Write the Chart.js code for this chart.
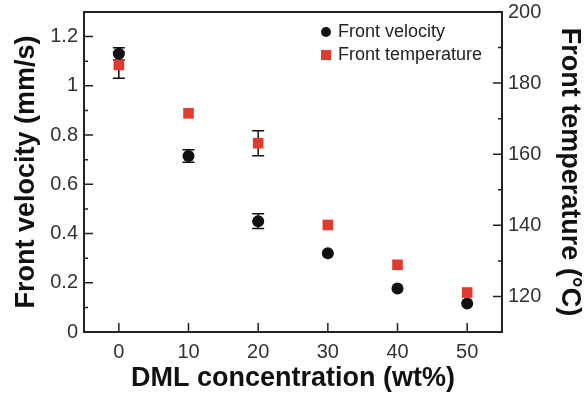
<!DOCTYPE html>
<html>
<head>
<meta charset="utf-8">
<script src="https://cdn.jsdelivr.net/npm/chart.js@4.4.1/dist/chart.umd.min.js"></script>
<style>
  html, body { margin: 0; padding: 0; background: #fff; }
  #wrap { width: 586px; height: 398px; }
</style>
</head>
<body>
<div id="wrap"><canvas id="frontChart" width="586" height="398"></canvas></div>
<script>
// values (0 = error bar hidden by the marker)
const concentration = [0, 10, 20, 30, 40, 50];
const velocity = [1.13, 0.715, 0.45, 0.32, 0.177, 0.116];
const velocityErr = [0.025, 0.025, 0.03, 0, 0, 0];
const temperature = [185.1, 171.5, 163.1, 140.1, 128.9, 121.1];
const temperatureErr = [3.7, 0, 3.5, 0, 0, 0];

// tick values
const xTicks = [0, 10, 20, 30, 40, 50];
const velocityTicks = [0, 0.2, 0.4, 0.6, 0.8, 1, 1.2];
const velocityMinor = [0.1, 0.3, 0.5, 0.7, 0.9, 1.1];
const tempTicks = [120, 140, 160, 180, 200];
const tempMinor = [130, 150, 170, 190];

const RED = '#e0392e';
const BLACK = '#111111';
const AXIS = '#222222';
const FONT = "'Liberation Sans', Arial, sans-serif";

function toPoints(xs, ys) {
    return xs.map((x, i) => ({ x: x, y: ys[i] }));
}

// error bars, frame, inward tick marks and the legend box
const decorations = {
    id: 'decorations',
    beforeDatasetsDraw(chart) {
        const ctx = chart.ctx;
        const x = chart.scales.x;
        const sets = [
            { vals: velocity, errs: velocityErr, scale: chart.scales.y },
            { vals: temperature, errs: temperatureErr, scale: chart.scales.y2 }
        ];
        ctx.save();
        ctx.strokeStyle = BLACK;
        ctx.lineWidth = 1.5;
        sets.forEach(s => {
            s.vals.forEach((v, i) => {
                if (!s.errs[i]) return;
                const px = x.getPixelForValue(concentration[i]);
                const top = s.scale.getPixelForValue(v + s.errs[i]);
                const bot = s.scale.getPixelForValue(v - s.errs[i]);
                ctx.beginPath();
                ctx.moveTo(px, top); ctx.lineTo(px, bot);
                ctx.moveTo(px - 6, top); ctx.lineTo(px + 6, top);
                ctx.moveTo(px - 6, bot); ctx.lineTo(px + 6, bot);
                ctx.stroke();
            });
        });
        ctx.restore();
    },
    afterDraw(chart) {
        const ctx = chart.ctx;
        const a = chart.chartArea;
        const { x, y, y2 } = chart.scales;
        ctx.save();
        ctx.strokeStyle = AXIS;
        ctx.lineWidth = 2;
        ctx.strokeRect(a.left, a.top, a.right - a.left, a.bottom - a.top);

        ctx.lineWidth = 1.5;
        ctx.beginPath();
        xTicks.forEach(v => {
            const p = x.getPixelForValue(v);
            ctx.moveTo(p, a.bottom); ctx.lineTo(p, a.bottom - 9);
        });
        velocityTicks.forEach(v => {
            const p = y.getPixelForValue(v);
            ctx.moveTo(a.left, p); ctx.lineTo(a.left + 9, p);
        });
        velocityMinor.forEach(v => {
            const p = y.getPixelForValue(v);
            ctx.moveTo(a.left, p); ctx.lineTo(a.left + 4, p);
        });
        tempTicks.forEach(v => {
            const p = y2.getPixelForValue(v);
            ctx.moveTo(a.right, p); ctx.lineTo(a.right - 9, p);
        });
        tempMinor.forEach(v => {
            const p = y2.getPixelForValue(v);
            ctx.moveTo(a.right, p); ctx.lineTo(a.right - 4, p);
        });
        ctx.stroke();

        // legend
        const lx = 326, ly = 32, gap = 23;
        ctx.fillStyle = BLACK;
        ctx.beginPath();
        ctx.arc(lx, ly, 5, 0, Math.PI * 2);
        ctx.fill();
        ctx.fillStyle = RED;
        ctx.fillRect(lx - 5, ly + gap - 5, 10, 10);
        ctx.fillStyle = '#222';
        ctx.font = '18px ' + FONT;
        ctx.textBaseline = 'middle';
        ctx.fillText(chart.data.datasets[0].label, lx + 12, ly);
        ctx.fillText(chart.data.datasets[1].label, lx + 12, ly + gap);
        ctx.restore();
    }
};

const tickFont = { family: FONT, size: 20 };
const titleFont = { family: FONT, size: 27, weight: 'bold' };

// fixed side widths, no extra padding for overhanging tick labels
const fitSide = s => { s.width = 84; s.paddingTop = 0; s.paddingBottom = 0; };

new Chart(document.getElementById('frontChart').getContext('2d'), {
    type: 'scatter',
    data: {
        datasets: [
            {
                label: 'Front velocity',
                data: toPoints(concentration, velocity),
                yAxisID: 'y',
                pointStyle: 'circle',
                pointRadius: 6,
                pointHoverRadius: 6,
                backgroundColor: BLACK,
                borderColor: BLACK,
                borderWidth: 0,
                order: 2
            },
            {
                label: 'Front temperature',
                data: toPoints(concentration, temperature),
                yAxisID: 'y2',
                pointStyle: 'rect',
                pointRadius: 7.5,
                pointHoverRadius: 7.5,
                backgroundColor: RED,
                borderColor: RED,
                borderWidth: 0,
                order: 1
            }
        ]
    },
    options: {
        responsive: false,
        animation: false,
        layout: { padding: { top: 12, left: 0, right: 0, bottom: 0 } },
        plugins: {
            legend: { display: false },
            tooltip: { enabled: false }
        },
        scales: {
            x: {
                type: 'linear',
                min: -5,
                max: 55,
                afterBuildTicks: s => { s.ticks = xTicks.map(v => ({ value: v })); },
                afterFit: s => { s.height = 66; s.paddingLeft = 0; s.paddingRight = 0; },
                grid: { display: false, drawTicks: false },
                border: { display: false },
                ticks: { font: tickFont, color: '#333', padding: 8 },
                title: { display: true, text: 'DML concentration (wt%)', font: titleFont, color: BLACK, padding: { bottom: 3 } }
            },
            y: {
                position: 'left',
                min: 0,
                max: 1.3,
                afterBuildTicks: s => { s.ticks = velocityTicks.map(v => ({ value: v })); },
                afterFit: fitSide,
                grid: { display: false, drawTicks: false },
                border: { display: false },
                ticks: { font: tickFont, color: '#333', padding: 6, callback: v => String(+v.toFixed(1)) },
                title: { display: true, text: 'Front velocity (mm/s)', font: titleFont, color: BLACK, padding: { top: 10 } }
            },
            y2: {
                position: 'right',
                min: 110,
                max: 200,
                afterBuildTicks: s => { s.ticks = tempTicks.map(v => ({ value: v })); },
                afterFit: fitSide,
                grid: { display: false, drawTicks: false },
                border: { display: false },
                ticks: { font: tickFont, color: '#333', padding: 6 },
                title: { display: true, text: 'Front temperature (°C)', font: titleFont, color: BLACK, padding: { top: 0 } }
            }
        }
    },
    plugins: [decorations]
});
</script>
</body>
</html>
